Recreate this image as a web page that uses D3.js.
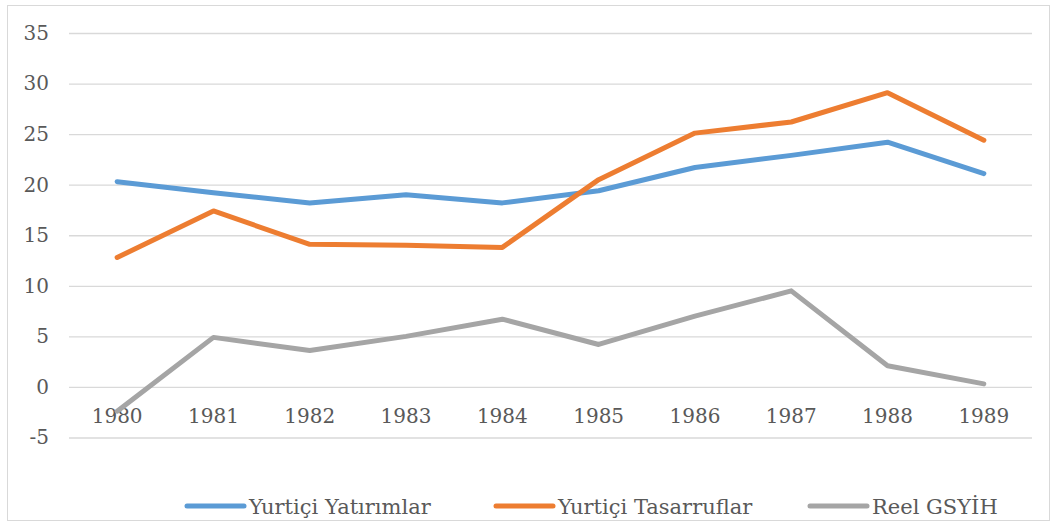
<!DOCTYPE html>
<html>
<head>
<meta charset="utf-8">
<script src="https://cdn.jsdelivr.net/npm/d3@7"></script>
<style>
  html, body { margin: 0; padding: 0; background: #fff; }
  svg { display: block; }
</style>
</head>
<body>
<svg id="chart" width="1055" height="526"></svg>
<script>
const years = ["1980","1981","1982","1983","1984","1985","1986","1987","1988","1989"];
const yatirimlar = [20.3, 19.2, 18.2, 19.0, 18.2, 19.4, 21.7, 22.9, 24.2, 21.1];
const tasarruflar = [12.8, 17.4, 14.1, 14.0, 13.8, 20.5, 25.1, 26.2, 29.1, 24.4];
const gsyih = [-2.4, 4.9, 3.6, 5.0, 6.7, 4.2, 7.0, 9.5, 2.1, 0.3];
const yTicks = [-5, 0, 5, 10, 15, 20, 25, 30, 35];
const seriesNames = ["Yurtiçi Yatırımlar", "Yurtiçi Tasarruflar", "Reel GSYİH"];
const seriesColors = ["#5B9BD5", "#ED7D31", "#A5A5A5"];

const FONT = "DejaVu Serif";
const svg = d3.select("#chart");

svg.append("rect").attr("x", 7.5).attr("y", 5.5).attr("width", 1042).attr("height", 515)
  .attr("fill", "#fff").attr("stroke", "#D9D9D9").attr("stroke-width", 1);

const left = 69, right = 1032;
const x = d3.scaleBand().domain(years).range([left, right]);
const y = d3.scaleLinear().domain([-5, 35]).range([437.5, 33]);
const cx = d => x(d) + x.bandwidth() / 2;

// gridlines
const grid = svg.append("g").attr("transform", `translate(${left},0)`)
  .call(d3.axisLeft(y).tickValues(yTicks).tickSize(-(right - left)).tickFormat(""));
grid.select(".domain").remove();
grid.selectAll("line").attr("stroke", "#D9D9D9").attr("stroke-width", 1.3);

// y labels
const yAxis = svg.append("g").attr("transform", `translate(49,0)`)
  .call(d3.axisLeft(y).tickValues(yTicks).tickSize(0).tickPadding(0).tickFormat(d => String(d)));
yAxis.attr("font-family", FONT).attr("font-size", 20);
yAxis.select(".domain").remove();
yAxis.selectAll("text").attr("fill", "#595959");

// x labels (axis crosses at zero)
const xAxis = svg.append("g").attr("transform", `translate(0,${y(0)})`)
  .call(d3.axisBottom(x).tickSize(0).tickPadding(0));
xAxis.attr("font-family", FONT).attr("font-size", 20);
xAxis.select(".domain").remove();
xAxis.selectAll("text").attr("fill", "#595959").attr("dy", 36);

// series lines
const line = d3.line().x((d, i) => cx(years[i])).y(d => y(d));
[yatirimlar, tasarruflar, gsyih].forEach((s, k) => {
  svg.append("path").datum(s).attr("d", line)
    .attr("fill", "none").attr("stroke", seriesColors[k]).attr("stroke-width", 5)
    .attr("stroke-linejoin", "round").attr("stroke-linecap", "round");
});

// legend
const legX = [187, 496, 810];
const legY = 506;
const legend = svg.append("g").attr("font-family", FONT).attr("font-size", 21);
seriesNames.forEach((n, k) => {
  legend.append("line").attr("x1", legX[k]).attr("x2", legX[k] + 57)
    .attr("y1", legY).attr("y2", legY)
    .attr("stroke", seriesColors[k]).attr("stroke-width", 5).attr("stroke-linecap", "round");
  legend.append("text").attr("x", legX[k] + 62).attr("y", legY).attr("dy", "0.36em")
    .attr("fill", "#595959").text(n);
});
</script>
</body>
</html>
